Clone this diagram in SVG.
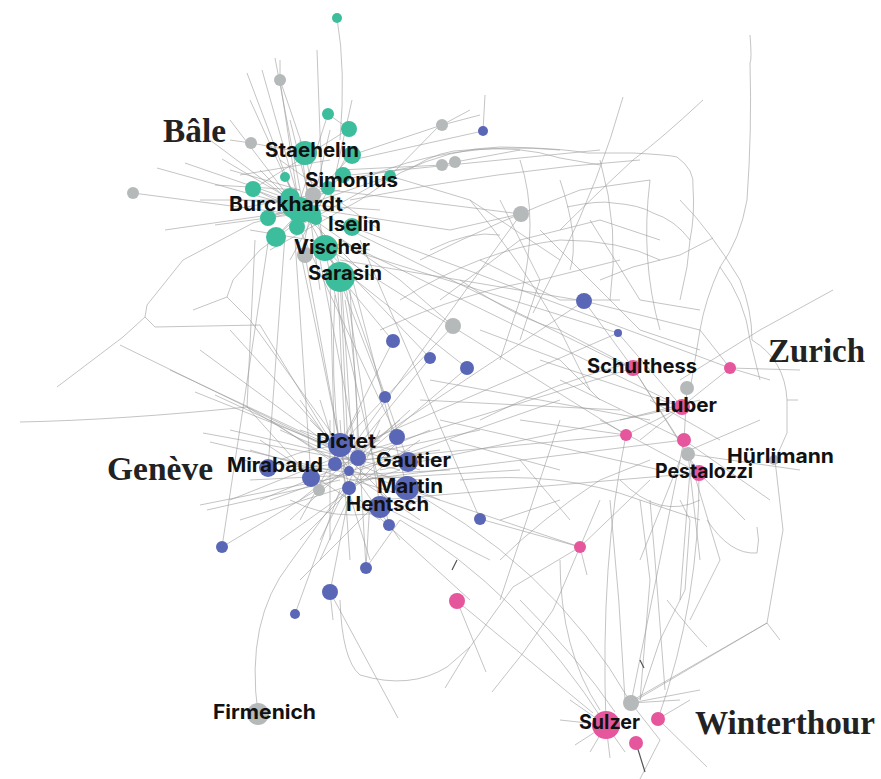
<svg xmlns="http://www.w3.org/2000/svg" width="881" height="779" viewBox="0 0 881 779">
<style>
.e{fill:none;stroke:#9b9b9b;stroke-width:0.7;opacity:0.85}
.d{fill:none;stroke:#555;stroke-width:1.2}
.t{fill:#3cbe9d}.b{fill:#5a67b7}.p{fill:#e5569c}.g{fill:#b6b9b9}
.l{font-family:Inter,"Liberation Sans",Arial,sans-serif;font-weight:bold;font-size:19.5px;fill:#111}
.c{font-family:"Liberation Serif","Times New Roman",serif;font-weight:bold;font-size:33px;fill:#222}
</style>
<rect width="881" height="779" fill="#fff"/>
<g id="connectors">
<path class="e" d="M337,18 Q346,70 340,140"/>
<path class="e" d="M280,60 L280,80 L298,200"/>
<path class="e" d="M262,70 L300,205 M247,73 L295,200 M275,58 L302,200 M317,50 L322,190 M352,100 L330,200"/>
<path class="e" d="M290,120 L310,200 M250,100 L300,210 M230,120 L295,205 M210,140 L290,200"/>
<path class="e" d="M157,168 L290,205 M185,163 L292,200 M222,159 L300,205 M133,193 L300,215 M165,230 L290,212"/>
<path class="e" d="M300,210 L253,223 L183,260 L147,305 L145,317 L123,337 L57,387"/>
<path class="e" d="M145,317 L155,327 L260,325 L330,440"/>
<path class="e" d="M300,220 L260,250 L233,280 L227,297 L193,310 M227,297 L250,320 L340,445"/>
<path class="e" d="M255,240 L247,407 L311,478"/>
<path class="e" d="M300,200 L328,114 L349,129 M305,153 L280,80 M305,153 L251,143 L230,140"/>
<path class="e" d="M352,155 L442,125 L480,115 M340,170 L442,165 L455,162 M352,160 L483,131 L485,95"/>
<path class="e" d="M330,190 L521,214 M350,175 L600,150 M360,180 Q450,140 560,150 M350,200 Q500,170 640,160"/>
<path class="e" d="M350,230 L630,368 M340,240 L682,407 M352,227 L730,368 M330,250 L626,435 M340,260 L584,301 M350,250 L618,333"/>
<path class="e" d="M320,210 L450,230 L520,214 M390,176 L470,200 L560,260 M300,210 L400,280 L453,326"/>
<path class="e" d="M390,176 L440,125 M340,180 L413,167 M360,200 L400,173 M442,125 L470,110 M455,162 L520,150"/>
<path class="e" d="M340,277 L393,341 M325,248 L430,358 M330,260 L467,368 M316,219 L385,397 M300,230 L397,437 M305,255 L340,445"/>
<path class="e" d="M320,260 L358,458 M330,280 L335,464 M295,240 L311,478 M285,235 L268,468 M340,277 L349,471 M350,270 L407,488"/>
<path class="e" d="M335,250 L408,462 M345,280 L380,507 M300,250 L349,488 M320,230 L389,525 M360,240 L480,519 M270,230 L222,547 M350,290 L366,568"/>
<path class="e" d="M338,290 L345,440 M342,290 L352,445 M335,295 Q330,380 340,450 M345,300 Q360,380 357,455"/>
<path class="e" d="M253,189 L352,227 M268,218 L390,176 M276,237 L343,175 M285,177 L340,277 M305,153 L325,248 M328,188 L268,218"/>
<path class="e" d="M352,155 L276,237 M297,227 L390,176 M253,189 L349,129 M316,219 L253,189 M240,200 L380,210 M250,230 L370,250"/>
<path class="e" d="M260,170 L360,270 M280,160 L380,230 M240,175 L330,160 M270,250 L360,200 M230,210 L340,190 M300,140 L320,290"/>
<path class="e" d="M290,260 L350,150 M330,130 L300,260 M300,200 L200,200 M290,215 L215,225 M300,190 L230,170 M300,190 L215,185"/>
<path class="e" d="M20,422 Q120,420 247,407 L350,470"/>
<path class="e" d="M203,433 L350,460 M200,505 L350,475 M207,510 L340,480 M222,547 L350,470 M195,392 L340,450 M215,395 L345,455 M210,442 L330,470"/>
<path class="e" d="M350,460 L200,350 M340,450 L170,370 M330,440 L230,330 M345,455 L120,345"/>
<path class="e" d="M258,714 Q245,620 290,563 L350,480"/>
<path class="e" d="M295,614 L340,490 M330,592 L350,490 M330,592 L333,620 M366,568 L370,500 M366,568 L400,520 M300,580 L380,500"/>
<path class="e" d="M340,600 Q342,660 360,675 Q410,690 447,667 L470,647 L513,587 L580,547"/>
<path class="e" d="M330,592 L398,718 M492,692 L523,653 L553,610 L580,547 L600,500 M457,601 L486,672 M445,688 L470,647"/>
<path class="e" d="M457,601 L593,713 M400,520 Q520,590 606,725 M480,519 L580,547 M580,547 L650,480 M580,547 L587,575"/>
<path class="e" d="M350,470 L580,547 M360,460 L626,435 M370,450 L633,368 M380,470 L682,407 M360,480 L684,440 M380,500 L699,473"/>
<path class="e" d="M390,480 Q550,560 631,703 M360,450 L584,301 M350,450 L521,214 M370,440 L618,333 M345,440 L453,326"/>
<path class="e" d="M340,445 L393,341 M355,450 L430,358 M365,455 L467,368 M360,470 L560,400 M340,460 L480,430 M350,480 L520,470"/>
<path class="e" d="M370,500 L490,560 M360,500 L470,600 M250,450 L420,500 M260,500 L430,430 M270,420 L420,520 M280,540 L420,440"/>
<path class="e" d="M300,400 L400,540 M290,520 L410,410 M250,480 L450,470 M320,400 L370,560 M240,520 L400,470 M280,430 L440,500"/>
<path class="e" d="M230,430 L400,470 M240,460 L420,480 M260,440 L380,520 M300,430 L420,470 M290,470 L440,450 M310,420 L390,500"/>
<path class="e" d="M330,420 L330,540 M360,410 L300,520 M380,420 L320,540 M400,420 L300,500 M270,500 L410,450 M230,500 L380,440"/>
<path class="e" d="M300,540 L400,440 M320,560 L380,430 M350,560 L340,420 M280,460 Q350,430 430,460 M290,500 Q350,530 420,500"/>
<path class="e" d="M400,173 Q450,148 500,147 Q560,148 587,153 L633,153 Q670,155 677,157 Q695,170 693,187 Q695,215 690,240 L687,267 L680,300"/>
<path class="e" d="M413,167 Q440,150 467,150 Q520,145 560,158 L600,165 M567,207 Q600,200 613,203 Q640,205 653,213 Q675,220 690,240"/>
<path class="e" d="M623,97 Q600,180 560,260 L533,313 M703,100 Q660,140 633,160 Q590,200 560,230 M713,238 L680,255 L633,267 L600,280"/>
<path class="e" d="M750,35 Q752,60 750,63 Q752,130 747,200 Q740,240 720,267 Q705,300 700,330 L690,390"/>
<path class="e" d="M720,267 Q745,300 750,340 L760,380 M833,290 L760,330 L720,355 L680,380"/>
<path class="e" d="M680,200 Q710,230 740,280 Q752,310 752,340 M752,340 Q785,360 787,400 L787,433 L775,460 L783,530 L767,623 L633,700"/>
<path class="e" d="M707,520 Q730,555 757,553 Q760,540 757,527 M767,623 L780,640 M787,400 L798,400"/>
<path class="e" d="M440,300 L520,240 L600,220 L660,240 M480,260 L560,300 L620,300 M500,200 L540,280 L520,340 M590,220 L640,300 L700,310"/>
<path class="e" d="M584,301 L633,368 M618,333 L682,407 M584,301 L700,330 M420,400 L620,410 M430,380 L650,420 M440,420 L660,470 M450,440 L560,470"/>
<path class="e" d="M520,460 L570,520 M500,520 L560,500 M480,330 L560,360 L600,400 M460,280 Q520,320 560,330"/>
<path class="e" d="M400,300 Q480,250 560,240 Q620,240 660,260 M420,260 Q500,220 580,190 L650,180 M380,330 Q470,290 540,280 L620,260"/>
<path class="e" d="M470,200 Q520,260 560,330 L590,390 M520,160 Q540,220 520,300 L500,360 M600,160 Q620,230 610,300 M650,180 Q640,260 660,330"/>
<path class="e" d="M540,230 L640,330 L700,350 M480,420 Q560,380 640,360 M460,480 Q560,470 640,500 L700,520 M500,560 Q540,520 600,480 L650,460"/>
<path class="e" d="M620,480 Q660,520 700,500 M560,420 L520,540 L500,600 M430,250 Q470,230 500,235 M560,180 Q580,240 570,270"/>
<path class="e" d="M633,368 L560,330 M682,407 L540,360 M684,440 L560,380 M699,473 L600,420 M626,435 L520,420"/>
<path class="e" d="M730,368 L800,370 M730,368 L770,380 M730,368 L700,330 M730,368 L640,440 M688,454 L800,470 M690,450 L760,420"/>
<path class="e" d="M684,440 L770,500 M699,473 L745,520 M688,454 L700,560 M680,460 L640,560 M690,470 L680,600"/>
<path class="e" d="M633,368 L699,473 M682,407 L626,435 M687,388 L684,440 M633,368 L688,454 M650,400 L720,440 M620,420 L700,400"/>
<path class="e" d="M684,440 Q660,560 631,703 M699,473 Q700,600 658,719 M626,435 Q600,560 606,725 M690,460 L720,560 L690,620"/>
<path class="e" d="M650,500 L655,560 L665,690 M640,500 L650,580 L640,700 M610,500 Q620,600 625,700 M680,500 L690,520 L685,590 L660,640 L640,700"/>
<path class="e" d="M667,600 Q690,630 707,647 M560,560 Q560,650 600,710 M520,600 Q580,660 615,712"/>
<path class="e" d="M606,725 L570,700 M606,725 L575,745 M606,725 L590,752 M606,725 L610,758 M606,725 L625,752 M606,725 L560,720"/>
<path class="e" d="M631,703 L680,700 M631,703 L700,690 M658,719 L707,767 M631,703 L660,740 L640,779 M631,703 L767,623 M658,719 L690,700"/>
<path class="d" d="M636,743 L645,772 M452,570 L457,560 M640,660 L644,668"/>
</g>
<g id="nodes">
<g id="n-t1"><circle class="t" cx="337" cy="18" r="5"/></g>
<g id="n-t2"><circle class="t" cx="328" cy="114" r="6"/></g>
<g id="n-t3"><circle class="t" cx="349" cy="129" r="8"/></g>
<g id="n-t5"><circle class="t" cx="352" cy="155" r="9"/></g>
<g id="n-t6"><circle class="t" cx="343" cy="175" r="8"/></g>
<g id="n-t7"><circle class="t" cx="390" cy="176" r="6"/></g>
<g id="n-t8"><circle class="t" cx="328" cy="188" r="7"/></g>
<g id="n-t9"><circle class="t" cx="285" cy="177" r="5"/></g>
<g id="n-t10"><circle class="t" cx="253" cy="189" r="8"/></g>
<g id="n-g6"><circle class="g" cx="313" cy="195" r="8"/></g>
<g id="n-t11"><circle class="t" cx="290" cy="198" r="10"/></g>
<g id="n-t12"><circle class="t" cx="300" cy="210" r="13"/></g>
<g id="n-t12b"><circle class="t" cx="312" cy="214" r="9"/></g>
<g id="n-t13"><circle class="t" cx="268" cy="218" r="8"/></g>
<g id="n-t14"><circle class="t" cx="297" cy="227" r="8"/></g>
<g id="n-t15"><circle class="t" cx="316" cy="219" r="6"/></g>
<g id="n-t16"><circle class="t" cx="276" cy="237" r="10"/></g>
<g id="n-g7"><circle class="g" cx="305" cy="255" r="8"/></g>
<g id="n-g1"><circle class="g" cx="280" cy="80" r="6"/></g>
<g id="n-g2"><circle class="g" cx="251" cy="143" r="6"/></g>
<g id="n-g3"><circle class="g" cx="442" cy="125" r="6"/></g>
<g id="n-g4"><circle class="g" cx="442" cy="165" r="6"/></g>
<g id="n-g5"><circle class="g" cx="455" cy="162" r="6"/></g>
<g id="n-g8"><circle class="g" cx="133" cy="193" r="6"/></g>
<g id="n-g9"><circle class="g" cx="521" cy="214" r="8"/></g>
<g id="n-g10"><circle class="g" cx="453" cy="326" r="8"/></g>
<g id="n-b1"><circle class="b" cx="483" cy="131" r="5"/></g>
<g id="n-b2"><circle class="b" cx="584" cy="301" r="8"/></g>
<g id="n-b3"><circle class="b" cx="618" cy="333" r="4"/></g>
<g id="n-b4"><circle class="b" cx="393" cy="341" r="7"/></g>
<g id="n-b5"><circle class="b" cx="430" cy="358" r="6"/></g>
<g id="n-b6"><circle class="b" cx="467" cy="368" r="7"/></g>
<g id="n-b7"><circle class="b" cx="385" cy="397" r="6"/></g>
<g id="n-b8"><circle class="b" cx="397" cy="437" r="8"/></g>
<g id="n-b10"><circle class="b" cx="358" cy="458" r="8"/></g>
<g id="n-b11"><circle class="b" cx="335" cy="464" r="7"/></g>
<g id="n-b12"><circle class="b" cx="349" cy="471" r="5"/></g>
<g id="n-b13"><circle class="b" cx="311" cy="478" r="9"/></g>
<g id="n-g11"><circle class="g" cx="319" cy="490" r="6"/></g>
<g id="n-b14"><circle class="b" cx="349" cy="488" r="7"/></g>
<g id="n-b17"><circle class="b" cx="389" cy="525" r="6"/></g>
<g id="n-b18"><circle class="b" cx="480" cy="519" r="6"/></g>
<g id="n-b19"><circle class="b" cx="222" cy="547" r="6"/></g>
<g id="n-b20"><circle class="b" cx="366" cy="568" r="6"/></g>
<g id="n-b21"><circle class="b" cx="330" cy="592" r="8"/></g>
<g id="n-b22"><circle class="b" cx="295" cy="614" r="5"/></g>
<g id="n-p1"><circle class="p" cx="457" cy="601" r="8"/></g>
<g id="n-p2"><circle class="p" cx="580" cy="547" r="6"/></g>
<g id="n-p3"><circle class="p" cx="730" cy="368" r="6"/></g>
<g id="n-g12"><circle class="g" cx="687" cy="388" r="7"/></g>
<g id="n-p4"><circle class="p" cx="626" cy="435" r="6"/></g>
<g id="n-p5"><circle class="p" cx="684" cy="440" r="7"/></g>
<g id="n-g13"><circle class="g" cx="688" cy="454" r="7"/></g>
<g id="n-g14"><circle class="g" cx="774" cy="460" r="5"/></g>
<g id="n-g15"><circle class="g" cx="631" cy="703" r="8"/></g>
<g id="n-p6"><circle class="p" cx="658" cy="719" r="7"/></g>
<g id="n-p7"><circle class="p" cx="636" cy="743" r="7"/></g>
<g id="n-staehelin"><circle class="t" cx="305" cy="153" r="12"/><text class="l" x="265" y="157" textLength="94" lengthAdjust="spacingAndGlyphs">Staehelin</text></g>
<g id="n-simonius"><text class="l" x="305" y="187" textLength="93" lengthAdjust="spacingAndGlyphs">Simonius</text></g>
<g id="n-burckhardt"><circle class="t" cx="293" cy="207" r="11"/><text class="l" x="229" y="211" textLength="114" lengthAdjust="spacingAndGlyphs">Burckhardt</text></g>
<g id="n-iselin"><circle class="t" cx="352" cy="227" r="9"/><text class="l" x="328" y="231" textLength="53" lengthAdjust="spacingAndGlyphs">Iselin</text></g>
<g id="n-vischer"><circle class="t" cx="325" cy="248" r="13"/><text class="l" x="294" y="254" textLength="76" lengthAdjust="spacingAndGlyphs">Vischer</text></g>
<g id="n-sarasin"><circle class="t" cx="340" cy="277" r="15"/><text class="l" x="308" y="280" textLength="74" lengthAdjust="spacingAndGlyphs">Sarasin</text></g>
<g id="n-pictet"><circle class="b" cx="340" cy="445" r="12"/><text class="l" x="316" y="448" textLength="60" lengthAdjust="spacingAndGlyphs">Pictet</text></g>
<g id="n-mirabaud"><circle class="b" cx="268" cy="468" r="9"/><text class="l" x="227" y="472" textLength="96" lengthAdjust="spacingAndGlyphs">Mirabaud</text></g>
<g id="n-gautier"><circle class="b" cx="408" cy="462" r="10"/><text class="l" x="376" y="467" textLength="75" lengthAdjust="spacingAndGlyphs">Gautier</text></g>
<g id="n-martin"><circle class="b" cx="407" cy="488" r="12"/><text class="l" x="377" y="493" textLength="66" lengthAdjust="spacingAndGlyphs">Martin</text></g>
<g id="n-hentsch"><circle class="b" cx="380" cy="507" r="11"/><text class="l" x="346" y="511" textLength="83" lengthAdjust="spacingAndGlyphs">Hentsch</text></g>
<g id="n-schulthess"><circle class="p" cx="633" cy="368" r="8"/><text class="l" x="587" y="373" textLength="110" lengthAdjust="spacingAndGlyphs">Schulthess</text></g>
<g id="n-huber"><circle class="p" cx="682" cy="407" r="8"/><text class="l" x="655" y="412" textLength="62" lengthAdjust="spacingAndGlyphs">Huber</text></g>
<g id="n-hurlimann"><text class="l" x="727" y="463" textLength="107" lengthAdjust="spacingAndGlyphs">Hürlimann</text></g>
<g id="n-pestalozzi"><circle class="p" cx="699" cy="473" r="8"/><text class="l" x="655" y="478" textLength="98" lengthAdjust="spacingAndGlyphs">Pestalozzi</text></g>
<g id="n-firmenich"><circle class="g" cx="258" cy="714" r="11"/><text class="l" x="213" y="719" textLength="103" lengthAdjust="spacingAndGlyphs">Firmenich</text></g>
<g id="n-sulzer"><circle class="p" cx="606" cy="725" r="14"/><text class="l" x="579" y="729" textLength="61" lengthAdjust="spacingAndGlyphs">Sulzer</text></g>
</g>
<g id="regions">
<text class="c" x="163" y="142" textLength="63" lengthAdjust="spacingAndGlyphs">Bâle</text>
<text class="c" x="107" y="480" textLength="106" lengthAdjust="spacingAndGlyphs">Genève</text>
<text class="c" x="768" y="362" textLength="97" lengthAdjust="spacingAndGlyphs">Zurich</text>
<text class="c" x="695" y="734" textLength="180" lengthAdjust="spacingAndGlyphs">Winterthour</text>
</g>
</svg>
